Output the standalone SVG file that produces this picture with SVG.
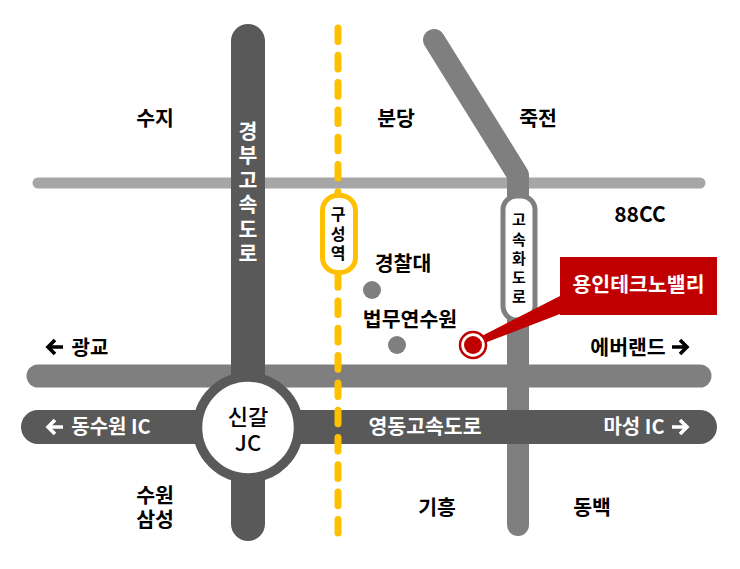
<svg xmlns="http://www.w3.org/2000/svg" width="740" height="569" viewBox="0 0 740 569">
<style>
text{font-family:"Noto Sans CJK KR","Noto Sans",sans-serif;font-weight:700;font-size:20.500px;fill:#000;text-anchor:middle}
.w{fill:#fff}
.s14{font-size:15px}
.s15{font-size:16px}
.s17{font-size:20px}
.s22{font-size:22px;font-weight:500}
.s88{font-size:21px}
.road{fill:none;stroke-linecap:round}
.arr{fill:none;stroke-width:3.600}
</style>
<rect width="740" height="569" fill="#fff"/>
<g id="connectors">
<path class="road" d="M38 183H700" stroke="#a6a6a6" stroke-width="11"/>
<path d="M434 40L518 175V525" fill="none" stroke="#7f7f7f" stroke-width="22" stroke-linecap="round" stroke-linejoin="round"/>
<path class="road" d="M38 376H700" stroke="#7f7f7f" stroke-width="23"/>
<path class="road" d="M38 427H700" stroke="#595959" stroke-width="34"/>
<path class="road" d="M248 41V524" stroke="#595959" stroke-width="34"/>
<path d="M338 28V534" fill="none" stroke="#ffc000" stroke-width="7" stroke-linecap="round" stroke-dasharray="13.600 13.700"/>
</g>
<g id="jc"><circle cx="248" cy="427.500" r="50.500" fill="#fff" stroke="#595959" stroke-width="9.500"/><text class="s22" x="248" y="425">신갈</text><text class="s22" x="248" y="451">JC</text></g>
<g id="station"><rect x="322.500" y="195.500" width="33" height="77" rx="15" fill="#fff" stroke="#ffc000" stroke-width="5"/><text class="s15" x="338" y="220">구</text><text class="s15" x="338" y="240">성</text><text class="s15" x="338" y="259">역</text></g>
<g id="hwy"><rect x="503" y="196" width="32" height="124" rx="14" fill="#fff" stroke="#7f7f7f" stroke-width="5"/><text class="s14" x="519" y="225">고</text><text class="s14" x="519" y="245">속</text><text class="s14" x="519" y="264">화</text><text class="s14" x="519" y="283">도</text><text class="s14" x="519" y="302">로</text></g>
<g id="gyeongbu"><text class="w" x="248" y="139">경</text><text class="w" x="248" y="163">부</text><text class="w" x="248" y="188">고</text><text class="w" x="248" y="212">속</text><text class="w" x="248" y="237">도</text><text class="w" x="248" y="261">로</text></g>
<g id="dot1"><circle cx="372" cy="290" r="9" fill="#7f7f7f"/><text x="403" y="271">경찰대</text></g>
<g id="dot2"><circle cx="397" cy="345" r="9" fill="#7f7f7f"/><text x="410" y="327">법무연수원</text></g>
<g id="callout"><path d="M560 296V314L474 347L470 342Z" fill="#c00000"/><rect x="560" y="257" width="157" height="58" fill="#c00000"/><text class="w" x="638.500" y="292">용인테크노밸리</text></g>
<g id="marker"><circle cx="473" cy="345" r="13" fill="#fff" stroke="#c00000" stroke-width="2.500"/><circle cx="473" cy="345" r="9" fill="#c00000"/></g>
<g id="labels">
<text x="155" y="126">수지</text><text x="396" y="126">분당</text><text x="538" y="126">죽전</text><text class="s88" x="640" y="222">88CC</text>
<text x="155" y="503">수원</text><text x="155" y="527">삼성</text><text x="437" y="515">기흥</text><text x="592" y="515">동백</text>
<text class="s17" x="90" y="355">광교</text><text x="628" y="355">에버랜드</text>
<text class="w" x="425" y="434">영동고속도로</text>
<text class="w s17" x="111" y="434">동수원 IC</text><text class="w s17" x="634" y="434">마성 IC</text>
</g>
<g id="arrows">
<path class="arr" stroke="#000" d="M63 347H48M55 340L48 347L55 354"/>
<path class="arr" stroke="#000" d="M672 347H687M680 340L687 347L680 354"/>
<path class="arr" stroke="#fff" d="M63 427H48M55 420L48 427L55 434"/>
<path class="arr" stroke="#fff" d="M672 427H687M680 420L687 427L680 434"/>
</g>
</svg>
